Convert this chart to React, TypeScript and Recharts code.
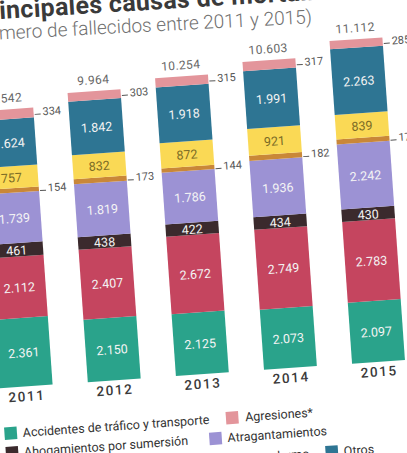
import { BarChart, Bar, XAxis, YAxis, LabelList } from "recharts";

const years = ["2011", "2012", "2013", "2014", "2015"];
const accidentes = [2361, 2150, 2125, 2073, 2097];
const caidas = [2112, 2407, 2672, 2749, 2783];
const ahogamientos = [461, 438, 422, 434, 430];
const atragantamientos = [1739, 1819, 1786, 1936, 2242];
const humo = [154, 173, 144, 182, 173];
const envenenamientos = [757, 832, 872, 921, 839];
const otros = [1624, 1842, 1918, 1991, 2263];
const agresiones = [334, 303, 315, 317, 285];
const totals = [9542, 9964, 10254, 10603, 11112];

const FONT = "Roboto, 'Open Sans', sans-serif";

const series = [
  { key: "accidentes", name: "Accidentes de tráfico y transporte", color: "#2aa38b", inside: true, text: "#f4f4f4" },
  { key: "caidas", name: "Caídas accidentales", color: "#c5455f", inside: true, text: "#f4f4f4" },
  { key: "ahogamientos", name: "Ahogamientos por sumersión", color: "#3b2a2d", inside: true, text: "#f4f4f4" },
  { key: "atragantamientos", name: "Atragantamientos", color: "#9c92d4", inside: true, text: "#f4f4f4" },
  { key: "humo", name: "Fuego y humo", color: "#c98738", inside: false, text: "#555" },
  { key: "envenenamientos", name: "Envenenamientos", color: "#fad955", inside: true, text: "#7b6b26" },
  { key: "otros", name: "Otros", color: "#2e7593", inside: true, text: "#f4f4f4" },
  { key: "agresiones", name: "Agresiones*", color: "#e3959b", inside: false, text: "#555" },
];

const data = years.map((year, i) => ({
  year,
  accidentes: accidentes[i],
  caidas: caidas[i],
  ahogamientos: ahogamientos[i],
  atragantamientos: atragantamientos[i],
  humo: humo[i],
  envenenamientos: envenenamientos[i],
  otros: otros[i],
  agresiones: agresiones[i],
  total: totals[i],
}));

// separador de miles con punto
const fmt = (v: number) => String(v).replace(/\B(?=(\d{3})+(?!\d))/g, ".");

const box = (p: any) => {
  const vb = p.viewBox && p.viewBox.width !== undefined ? p.viewBox : p;
  return { x: Number(vb.x), y: Number(vb.y), w: Number(vb.width), h: Number(vb.height) };
};

const insideLabel = (color: string) => (p: any) => {
  const { x, y, w, h } = box(p);
  return (
    <text
      x={x + w / 2}
      y={y + h / 2 + 0.5}
      textAnchor="middle"
      dominantBaseline="central"
      fill={color}
      fontSize={12.5}
      fontFamily={FONT}
    >
      {fmt(Number(p.value))}
    </text>
  );
};

const sideLabel = (p: any) => {
  const { x, y, w, h } = box(p);
  const cy = y + h / 2;
  return (
    <g>
      <line x1={x + w + 1} x2={x + w + 7} y1={cy + 2} y2={cy + 2} stroke="#555" strokeWidth={1} />
      <text x={x + w + 9} y={cy} dominantBaseline="central" fill="#555" fontSize={11} fontFamily={FONT}>
        {fmt(Number(p.value))}
      </text>
    </g>
  );
};

const totalLabel = (p: any) => {
  const { x, y, w } = box(p);
  return (
    <text
      x={x + w / 2}
      y={y - 11}
      textAnchor="middle"
      dominantBaseline="central"
      fill="#666"
      fontSize={12}
      fontFamily={FONT}
      letterSpacing={0.4}
    >
      {fmt(totals[p.index])}
    </text>
  );
};

const legendRows = [
  [
    { s: "accidentes", x: 60, t: 72 },
    { s: "agresiones", x: 282, t: 295 },
  ],
  [
    { s: "ahogamientos", x: 60, t: 72 },
    { s: "atragantamientos", x: 264, t: 276 },
  ],
  [
    { s: "caidas", x: 60, t: 72 },
    { s: "humo", x: 266, t: 278 },
    { s: "otros", x: 379, t: 391 },
  ],
  [{ s: "envenenamientos", x: 60, t: 72 }],
];

function Legend() {
  return (
    <svg width={500} height={520} style={{ position: "absolute", left: 0, top: 0 }}>
      <text
        x={52}
        y={28.5}
        transform="rotate(0.5 79 28.5)"
        fill="#3a3a3a"
        fontSize={25}
        fontWeight={700}
        letterSpacing={0.3}
        fontFamily={FONT}
      >
        Principales causas de mortalidad
      </text>
      <text
        x={46}
        y={49}
        transform="rotate(1 80 49)"
        fill="#707070"
        fontSize={19}
        fontWeight={300}
        fontFamily={FONT}
      >
        (Número de fallecidos entre 2011 y 2015)
      </text>
      {legendRows.map((row, r) =>
        row.map((it) => {
          const s = series.find((q) => q.key === it.s)!;
          const cy = 442.5 + r * 19.5 + (r >= 2 ? 2 : 0);
          return (
            <g key={it.s}>
              <rect x={it.x - 6.25} y={cy - 6.25} width={12.5} height={12.5} fill={s.color} />
              <text x={it.t} y={cy} dominantBaseline="central" fill="#333" fontSize={12.5} fontFamily={FONT}>
                {s.name}
              </text>
            </g>
          );
        })
      )}
    </svg>
  );
}

export default function App() {
  return (
    <div
      style={{
        position: "fixed",
        left: 0,
        top: 0,
        width: 407,
        height: 453,
        overflow: "hidden",
        background: "#fff",
      }}
    >
      <div
        style={{
          position: "absolute",
          left: -80.5,
          top: -4.4,
          width: 500,
          height: 520,
          transform: "rotate(-4deg)",
          transformOrigin: "0 0",
        }}
      >
        <Legend />
        <div style={{ position: "absolute", left: 0, top: 0 }}>
          <BarChart
            width={500}
            height={500}
            data={data}
            margin={{ top: 47.7, right: 24, bottom: 73.1, left: 34.5 }}
            barCategoryGap="20%"
          >
            <XAxis
              dataKey="year"
              axisLine={false}
              tickLine={false}
              tickSize={0}
              tickMargin={5}
              height={30}
              tick={{ fill: "#3a3a3a", fontSize: 13.5, fontWeight: 500, fontFamily: FONT, letterSpacing: 1.6 }}
            />
            <YAxis hide domain={[0, 12000]} />
            {series.map((s) => (
              <Bar key={s.key} dataKey={s.key} name={s.name} stackId="a" fill={s.color} isAnimationActive={false}>
                <LabelList dataKey={s.key} content={s.inside ? insideLabel(s.text) : sideLabel} />
                {s.key === "agresiones" && <LabelList dataKey="total" content={totalLabel} />}
              </Bar>
            ))}
          </BarChart>
        </div>
      </div>
    </div>
  );
}
